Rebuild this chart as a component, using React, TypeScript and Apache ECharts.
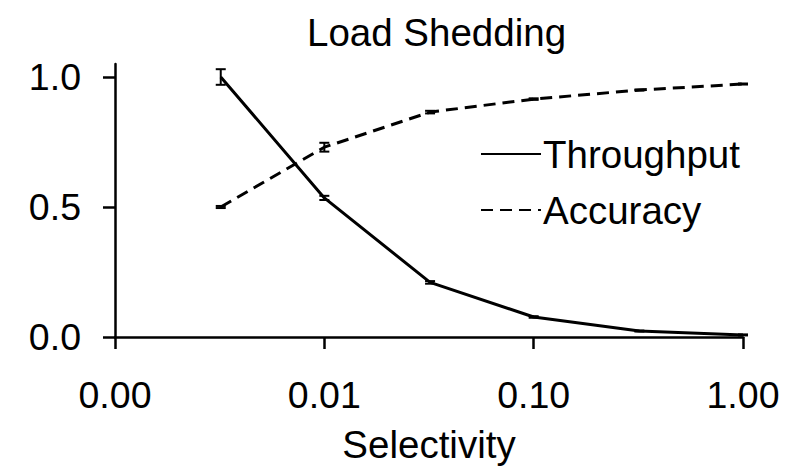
import React, { useEffect, useRef } from "react";
import * as echarts from "echarts";

const selectivity = [0.0032, 0.01, 0.032, 0.1, 0.32, 1.0];
const throughput = [1.0, 0.535, 0.21, 0.077, 0.023, 0.008];
const throughputErr = [0.03, 0.008, 0.005, 0.003, 0.002, 0.002];
const accuracy = [0.5, 0.73, 0.865, 0.915, 0.95, 0.973];
const accuracyErr = [0.004, 0.017, 0.005, 0.003, 0.002, 0.002];
const yTicks = [0, 0.5, 1.0];

const FONT = "Liberation Sans, Arial, sans-serif";

function errorSeries(name: string, ys: number[], errs: number[]) {
  return {
    type: "custom",
    name,
    silent: true,
    z: 5,
    data: selectivity.map((x, i) => [x, ys[i] - errs[i], ys[i] + errs[i]]),
    renderItem: (params: any, api: any) => {
      const lo = api.coord([api.value(0), api.value(1)]);
      const hi = api.coord([api.value(0), api.value(2)]);
      const w = 5;
      const style = { stroke: "#000", lineWidth: 2, fill: "none" };
      return {
        type: "group",
        children: [
          { type: "line", shape: { x1: lo[0], y1: lo[1], x2: hi[0], y2: hi[1] }, style },
          { type: "line", shape: { x1: lo[0] - w, y1: lo[1], x2: lo[0] + w, y2: lo[1] }, style },
          { type: "line", shape: { x1: hi[0] - w, y1: hi[1], x2: hi[0] + w, y2: hi[1] }, style },
        ],
      };
    },
  };
}

export default function App() {
  const ref = useRef<HTMLDivElement>(null);
  useEffect(() => {
    if (!ref.current) return;
    const chart = echarts.init(ref.current, null, { renderer: "svg" });
    chart.setOption({
      animation: false,
      backgroundColor: "#fff",
      title: {
        text: "Load Shedding",
        left: 307,
        top: 13,
        padding: 0,
        textStyle: { fontFamily: FONT, fontSize: 38.5, fontWeight: "normal", color: "#000" },
      },
      legend: {
        left: 480,
        top: 131,
        orient: "vertical",
        itemWidth: 60,
        itemHeight: 14,
        itemGap: 10,
        padding: 0,
        itemStyle: { opacity: 0 },
        data: ["Throughput", "Accuracy"],
        textStyle: { fontFamily: FONT, fontSize: 38.5, color: "#000", lineHeight: 40, padding: [6, 0, 0, -3] },
      },
      grid: { left: 115, right: 57, top: 64, bottom: 133 },
      xAxis: {
        type: "log",
        logBase: 10,
        min: 0.001,
        max: 1,
        name: "Selectivity",
        nameLocation: "middle",
        nameGap: 88,
        nameTextStyle: { fontFamily: FONT, fontSize: 38.5, color: "#000" },
        axisLine: { lineStyle: { color: "#000", width: 2.5 } },
        axisTick: { show: true, inside: false, length: 12, lineStyle: { color: "#000", width: 2.5 } },
        minorTick: { show: false },
        splitLine: { show: false },
        axisLabel: {
          margin: 39,
          fontFamily: FONT,
          fontSize: 37.5,
          color: "#000",
          formatter: (v: number) => v.toFixed(2),
        },
      },
      yAxis: {
        type: "value",
        min: 0,
        max: 1.05,
        axisLine: { show: true, lineStyle: { color: "#000", width: 2.5 } },
        axisTick: {
          show: true,
          inside: false,
          length: 12,
          customValues: yTicks,
          lineStyle: { color: "#000", width: 2.5 },
        },
        splitLine: { show: false },
        axisLabel: {
          margin: 34,
          fontFamily: FONT,
          fontSize: 37.5,
          color: "#000",
          customValues: yTicks,
          formatter: (v: number) => v.toFixed(1),
        },
      },
      series: [
        {
          name: "Throughput",
          type: "line",
          symbol: "none",
          data: selectivity.map((x, i) => [x, throughput[i]]),
          lineStyle: { color: "#000", width: 3, type: "solid" },
          itemStyle: { color: "#000" },
          z: 3,
        },
        {
          name: "Accuracy",
          type: "line",
          symbol: "none",
          data: selectivity.map((x, i) => [x, accuracy[i]]),
          lineStyle: { color: "#000", width: 3, type: [12, 7] },
          itemStyle: { color: "#000" },
          z: 3,
        },
        errorSeries("ThroughputErr", throughput, throughputErr),
        errorSeries("AccuracyErr", accuracy, accuracyErr),
      ],
    });
    return () => chart.dispose();
  }, []);
  return <div ref={ref} style={{ width: 800, height: 470, position: "absolute", left: 0, top: 0 }} />;
}
